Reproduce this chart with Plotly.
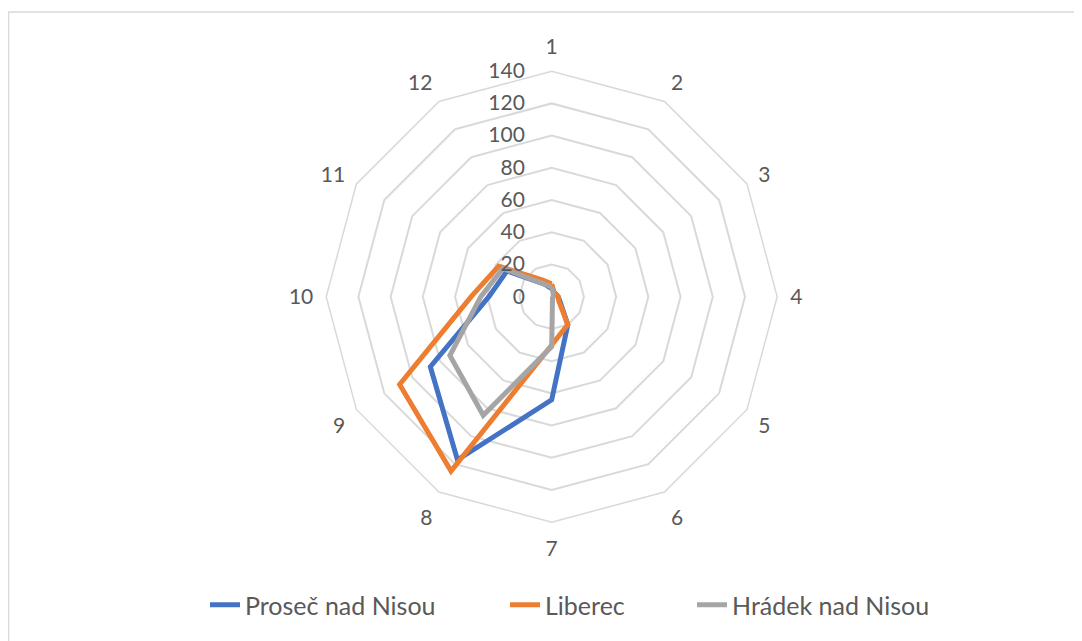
import plotly.graph_objects as go

# months / categories on the radar
categories = ["1", "2", "3", "4", "5", "6", "7", "8", "9", "10", "11", "12"]

prosec = [5, 3, 3, 4, 6, 20, 64, 117, 87, 39, 32, 9]
liberec = [8, 3, 3, 4, 5, 20, 30, 125, 109, 50, 38, 12]
hradek = [6, 2, 1, 1, 1, 1, 31, 85, 73, 44, 35, 9]

series_names = ["Proseč nad Nisou", "Liberec", "Hrádek nad Nisou"]
series_colors = ["#4472C4", "#ED7D31", "#A5A5A5"]
radial_ticks = [0, 20, 40, 60, 80, 100, 120, 140]

FONT = "Lato"
TXT = "#595959"
GRID = "#d9d9d9"

W, H = 1082, 641
# page body adds ~8px offset, so positions here are shifted back
cx, cy, R = 543.7, 288.7, 225.5
legend_x = [197, 497, 684]  # left edge of each legend entry (px)
legend_ids = ["legend", "legend2", "legend3"]


def main():
    fig = go.Figure()
    for name, vals, col, lg in zip(
        series_names, [prosec, liberec, hradek], series_colors, legend_ids
    ):
        fig.add_trace(
            go.Scatterpolar(
                r=vals + vals[:1],
                theta=categories + categories[:1],
                mode="lines",
                name=name,
                legend=lg,
                showlegend=True,
                line=dict(color=col, width=5),
            )
        )

    legends = {
        lg: dict(
            orientation="h",
            x=lx / W,
            xanchor="left",
            y=(H - 597) / H,
            yanchor="middle",
            font=dict(size=25, color=TXT),
            bgcolor="rgba(0,0,0,0)",
        )
        for lg, lx in zip(legend_ids, legend_x)
    }

    fig.update_layout(
        width=W,
        height=H,
        showlegend=True,
        margin=dict(l=0, r=0, t=0, b=0, autoexpand=False),
        paper_bgcolor="white",
        font=dict(family=FONT, color=TXT, size=21),
        polar=dict(
            domain=dict(
                x=[(cx - R) / W, (cx + R) / W],
                y=[(H - cy - R) / H, (H - cy + R) / H],
            ),
            gridshape="linear",
            bgcolor="white",
            angularaxis=dict(
                rotation=90,
                direction="clockwise",
                showgrid=False,
                showline=True,
                linecolor=GRID,
                linewidth=1.5,
                ticks="outside",
                ticklen=8,
                tickcolor="rgba(0,0,0,0)",
                tickfont=dict(size=21, color=TXT),
            ),
            radialaxis=dict(
                range=[0, 140],
                tickvals=radial_ticks,
                angle=90,
                tickangle=90,
                side="counterclockwise",
                showline=False,
                ticks="outside",
                ticklen=19,
                tickcolor="rgba(0,0,0,0)",
                gridcolor=GRID,
                gridwidth=1.5,
                tickfont=dict(size=21, color=TXT),
            ),
        ),
        **legends,
        shapes=[
            dict(
                type="rect",
                xref="paper",
                yref="paper",
                x0=0.5 / W,
                x1=(W - 1) / W,
                y0=0,
                y1=(H - 4) / H,
                line=dict(color=GRID, width=1.5),
            )
        ],
    )

    fig.write_html("out.html")


if __name__ == "__main__":
    main()
